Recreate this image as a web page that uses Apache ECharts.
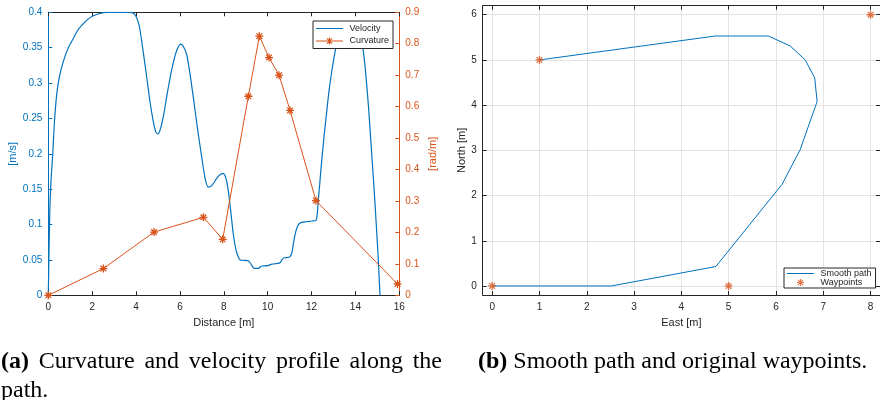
<!DOCTYPE html>
<html><head><meta charset="utf-8">
<script src="https://cdn.jsdelivr.net/npm/echarts@6/dist/echarts.min.js"></script>
<style>html,body{margin:0;padding:0;background:#fff}#c{width:880px;height:400px}</style>
</head><body><div id="c"></div>
<script>
// ---- Left panel data ----
const velDist = [0, 0.03, 0.07, 0.12, 0.2, 0.28, 0.38, 0.5, 0.68, 0.9, 1.14, 1.35, 1.6, 1.8, 2.05, 2.3, 2.66, 3.2, 3.7, 3.87, 4.0, 4.1, 4.18, 4.3, 4.48, 4.63, 4.79, 4.9, 4.99, 5.08, 5.24, 5.42, 5.62, 5.82, 6.03, 6.15, 6.31, 6.45, 6.61, 6.8, 6.99, 7.15, 7.29, 7.45, 7.67, 7.85, 7.98, 8.1, 8.2, 8.32, 8.43, 8.55, 8.66, 8.75, 8.89, 9.1, 9.2, 9.3, 9.4, 9.57, 9.7, 9.8, 10.0, 10.2, 10.45, 10.56, 10.65, 10.75, 11.0, 11.1, 11.2, 11.3, 11.4, 11.55, 11.78, 12.0, 12.2, 12.26, 12.31, 12.38, 12.46, 12.57, 12.69, 12.8, 12.92, 13.03, 13.14, 13.3, 13.5, 13.75, 14.0, 14.2, 14.34, 14.45, 14.59, 14.72, 14.85, 14.95, 15.04, 15.12];
const velValues = [0, 0.06, 0.12, 0.16, 0.198, 0.245, 0.283, 0.308, 0.33, 0.349, 0.363, 0.375, 0.384, 0.39, 0.395, 0.398, 0.4, 0.4, 0.4, 0.399, 0.394, 0.386, 0.375, 0.35, 0.31, 0.275, 0.245, 0.231, 0.228, 0.232, 0.252, 0.285, 0.318, 0.343, 0.355, 0.352, 0.34, 0.315, 0.28, 0.236, 0.196, 0.165, 0.153, 0.155, 0.165, 0.171, 0.172, 0.165, 0.149, 0.118, 0.087, 0.065, 0.054, 0.05, 0.0495, 0.049, 0.046, 0.041, 0.038, 0.038, 0.041, 0.0415, 0.042, 0.044, 0.045, 0.046, 0.05, 0.053, 0.054, 0.06, 0.078, 0.092, 0.1, 0.103, 0.104, 0.105, 0.106, 0.115, 0.135, 0.16, 0.189, 0.225, 0.259, 0.29, 0.316, 0.337, 0.354, 0.368, 0.378, 0.382, 0.375, 0.362, 0.349, 0.32, 0.269, 0.21, 0.151, 0.1, 0.052, 0];
const curvDist = [0, 2.51, 4.82, 7.07, 7.95, 9.12, 9.62, 10.06, 10.52, 11.02, 12.2, 15.92];
const curvValues = [0, 0.085, 0.201, 0.248, 0.178, 0.633, 0.824, 0.756, 0.70, 0.588, 0.301, 0.036];
// ---- Right panel data ----
const pathEast = [0, 2.52, 4.73, 6.13, 6.51, 6.87, 6.82, 6.62, 6.3, 5.84, 4.72, 1];
const pathNorth = [0, 0, 0.43, 2.25, 3.01, 4.08, 4.6, 5.0, 5.31, 5.53, 5.53, 5];
const wpEast = [0, 1, 5, 8];
const wpNorth = [0, 5, 0, 6];
const eastTicks = [0, 1, 2, 3, 4, 5, 6, 7, 8];
const northTicks = [0, 1, 2, 3, 4, 5, 6];
// ---- Captions ----
const captionA1 = ['(a)', 'Curvature', 'and', 'velocity', 'profile', 'along', 'the'];
const captionA2 = 'path.';
const captionB = ['(b)', 'Smooth path and original waypoints.'];

const BLUE = '#0072BD', ORANGE = '#D95319', DARK = '#262626';
const FONT = 'Liberation Sans';
const SERIF = '"Liberation Serif"';
const STAR = 'path://M-0.8,-5H0.8V5H-0.8Z M-5,-0.8H5V0.8H-5Z M-4.1,-2.97L-2.97,-4.1L4.1,2.97L2.97,4.1Z M2.97,-4.1L4.1,-2.97L-2.97,4.1L-4.1,2.97Z';
const SPECKS = 'M0,0h0.01v0.01h-0.01Z M29.99,9.99h0.01v0.01h-0.01Z';
const ICON_STAR = 'M14.4,1H15.6V9H14.4Z M11,4.4H19V5.6H11Z M11.75,2.59L12.59,1.75L18.25,7.41L17.41,8.25Z M17.41,1.75L18.25,2.59L12.59,8.25L11.75,7.41Z';
const ICON_LINE = 'M0,4.5H30V5.5H0Z';

const zip = (a, b) => a.map((v, i) => [v, b[i]]);
const tickIn = (color, custom) => {
  const t = {show: true, inside: true, length: 4, lineStyle: {color: color, width: 1}};
  if (custom) t.customValues = custom;
  return t;
};
const axLine = (color) => ({show: true, onZero: false, lineStyle: {color: color, width: 1}});
const legendItem = (name, icon, color) => ({name: name, icon: 'path://' + SPECKS + ' ' + icon,
  itemStyle: {color: color, borderWidth: 0}});

// caption layout
const mctx = document.createElement('canvas').getContext('2d');
function tw(txt, font) { mctx.font = font; return mctx.measureText(txt).width; }
const FS = 24;
const fReg = FS + 'px ' + SERIF, fBold = 'bold ' + FS + 'px ' + SERIF;
const graphics = [];
(function () {
  const lineW = 441;
  const widths = captionA1.map((w, i) => tw(w, i === 0 ? fBold : fReg));
  const total = widths.reduce((a, b) => a + b, 0);
  const gap = (lineW - total) / (captionA1.length - 1);
  let x = 1;
  captionA1.forEach((w, i) => {
    graphics.push({type: 'text', x: x, y: 350, style: {text: w, font: i === 0 ? fBold : fReg, fill: '#000'}});
    x += widths[i] + gap;
  });
  graphics.push({type: 'text', x: 1, y: 379, style: {text: captionA2, font: fReg, fill: '#000'}});
  const bw = tw(captionB[0], fBold), sp = tw(' ', fReg);
  graphics.push({type: 'text', x: 478, y: 350, style: {text: captionB[0], font: fBold, fill: '#000'}});
  graphics.push({type: 'text', x: 478 + bw + sp, y: 350, style: {text: captionB[1], font: fReg, fill: '#000'}});
})();

const chart = echarts.init(document.getElementById('c'), null, {renderer: 'canvas'});
chart.setOption({
  animation: false,
  backgroundColor: '#fff',
  textStyle: {fontFamily: FONT},
  grid: [
    {left: 48.3, top: 12.3, width: 351, height: 283},
    {left: 482.7, top: 5.7, width: 403.2, height: 289.3}
  ],
  xAxis: [
    {gridIndex: 0, type: 'value', min: 0, max: 16, interval: 2, position: 'bottom',
     name: 'Distance [m]', nameLocation: 'middle', nameGap: 22,
     nameTextStyle: {color: DARK, fontSize: 11, fontFamily: FONT},
     axisLine: axLine(DARK), axisTick: tickIn(DARK),
     axisLabel: {color: DARK, fontSize: 10, margin: 7, fontFamily: FONT}, splitLine: {show: false}},
    {gridIndex: 0, type: 'value', min: 0, max: 16, interval: 2, position: 'top',
     axisLine: axLine(DARK), axisTick: tickIn(DARK),
     axisLabel: {show: false}, splitLine: {show: false}},
    {gridIndex: 1, type: 'value', min: -0.2, max: 8.2, position: 'bottom',
     name: 'East [m]', nameLocation: 'middle', nameGap: 22,
     nameTextStyle: {color: DARK, fontSize: 11, fontFamily: FONT},
     axisLine: axLine(DARK), axisTick: tickIn(DARK, eastTicks),
     axisLabel: {color: DARK, fontSize: 10, margin: 7, fontFamily: FONT, customValues: eastTicks},
     splitLine: {show: true, lineStyle: {color: '#e3e3e3', width: 1}}},
    {gridIndex: 1, type: 'value', min: -0.2, max: 8.2, position: 'top',
     axisLine: axLine(DARK), axisTick: tickIn(DARK, eastTicks),
     axisLabel: {show: false, customValues: eastTicks}, splitLine: {show: false}}
  ],
  yAxis: [
    {gridIndex: 0, type: 'value', min: 0, max: 0.4, interval: 0.05, position: 'left',
     name: '[m/s]', nameLocation: 'middle', nameGap: 27,
     nameTextStyle: {color: BLUE, fontSize: 11, fontFamily: FONT},
     axisLine: axLine(BLUE), axisTick: tickIn(BLUE),
     axisLabel: {color: BLUE, fontSize: 10, margin: 6, fontFamily: FONT}, splitLine: {show: false}},
    {gridIndex: 0, type: 'value', min: 0, max: 0.9, interval: 0.1, position: 'right',
     name: '[rad/m]', nameLocation: 'middle', nameGap: 28,
     nameTextStyle: {color: ORANGE, fontSize: 11, fontFamily: FONT},
     axisLine: axLine(ORANGE), axisTick: tickIn(ORANGE),
     axisLabel: {color: ORANGE, fontSize: 10, margin: 6, fontFamily: FONT}, splitLine: {show: false}},
    {gridIndex: 1, type: 'value', min: -0.2, max: 6.2, position: 'left',
     name: 'North [m]', nameLocation: 'middle', nameGap: 13.5,
     nameTextStyle: {color: DARK, fontSize: 11, fontFamily: FONT},
     axisLine: axLine(DARK), axisTick: tickIn(DARK, northTicks),
     axisLabel: {color: DARK, fontSize: 10, margin: 6, fontFamily: FONT, customValues: northTicks},
     splitLine: {show: true, lineStyle: {color: '#e3e3e3', width: 1}}},
    {gridIndex: 1, type: 'value', min: -0.2, max: 6.2, position: 'right',
     axisLine: axLine(DARK), axisTick: tickIn(DARK, northTicks),
     axisLabel: {show: false, customValues: northTicks}, splitLine: {show: false}}
  ],
  legend: [
    {left: 313, top: 21, orient: 'vertical', padding: [3, 4, 3, 3], itemGap: 3.5, z: 10,
     itemWidth: 30, itemHeight: 9, backgroundColor: '#fff', borderColor: DARK, borderWidth: 1,
     textStyle: {fontSize: 9, color: DARK, fontFamily: FONT},
     data: [legendItem('Velocity', ICON_LINE, BLUE),
            legendItem('Curvature', ICON_LINE + ' ' + ICON_STAR, ORANGE)]},
    {left: 784, top: 268, orient: 'vertical', padding: [1, 4, 1, 3], itemGap: 0, z: 10,
     itemWidth: 30, itemHeight: 9, backgroundColor: '#fff', borderColor: DARK, borderWidth: 1,
     textStyle: {fontSize: 9, color: DARK, fontFamily: FONT},
     data: [legendItem('Smooth path', ICON_LINE, BLUE),
            legendItem('Waypoints', ICON_STAR, ORANGE)]}
  ],
  series: [
    {name: 'Velocity', type: 'line', xAxisIndex: 0, yAxisIndex: 0, data: zip(velDist, velValues),
     showSymbol: false, symbol: 'none', smooth: 0.25,
     lineStyle: {color: BLUE, width: 1.2}, itemStyle: {color: BLUE}, z: 3},
    {name: 'Curvature', type: 'line', xAxisIndex: 0, yAxisIndex: 1, data: zip(curvDist, curvValues),
     symbol: STAR, symbolSize: 8, showSymbol: true,
     lineStyle: {color: ORANGE, width: 1}, itemStyle: {color: ORANGE}, z: 4},
    {name: 'Smooth path', type: 'line', xAxisIndex: 2, yAxisIndex: 2, data: zip(pathEast, pathNorth),
     symbol: 'none', showSymbol: false, lineStyle: {color: BLUE, width: 1}, itemStyle: {color: BLUE}, z: 3},
    {name: 'Waypoints', type: 'scatter', xAxisIndex: 2, yAxisIndex: 2, data: zip(wpEast, wpNorth),
     symbol: STAR, symbolSize: 8, itemStyle: {color: ORANGE}, z: 4}
  ],
  graphic: graphics
});
</script></body></html>
